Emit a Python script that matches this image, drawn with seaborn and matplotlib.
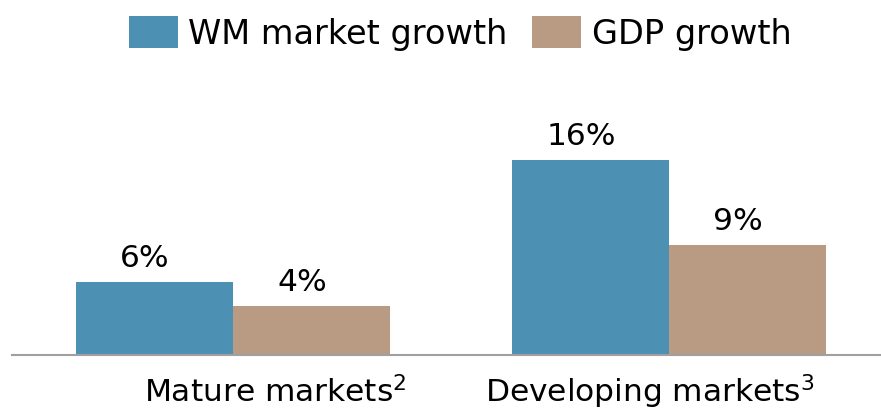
import pandas as pd
import numpy as np
import matplotlib
matplotlib.use('Agg')
import matplotlib.pyplot as plt
import seaborn as sns
from matplotlib.patches import Patch
from matplotlib.transforms import offset_copy

# data
categories = ['Mature markets$^2$', 'Developing markets$^3$']
series = ['WM market growth', 'GDP growth']
wm_growth = [6, 16]
gdp_growth = [4, 9]
colors = ['#4C91B4', '#B89B82']

df = pd.DataFrame({
    'market': categories * 2,
    'series': [series[0]] * 2 + [series[1]] * 2,
    'growth': wm_growth + gdp_growth,
})

sns.set_style('white')
plt.rcParams['font.family'] = ['DejaVu Sans']
plt.rcParams['mathtext.fontset'] = 'dejavusans'
plt.rcParams['mathtext.default'] = 'regular'
plt.rcParams['text.color'] = 'black'

fig = plt.figure(figsize=(8.81, 4.11), dpi=100)
W, H = 881, 411
ax = fig.add_axes([12 / W, 1 - 355 / H, (881 - 12) / W, 355 / H])

sns.barplot(data=df, x='market', y='growth', hue='series', palette=colors,
            width=0.72, gap=0, saturation=1, dodge=True, legend=False, ax=ax,
            linewidth=0)

ax.set_xlim(-0.507, 1.486)
ax.set_ylim(0, 29.1)

# value labels
for cont in ax.containers:
    for bar in cont:
        h = bar.get_height()
        tr = offset_copy(ax.transData, fig=fig, x=-7, y=11, units='points')
        ax.text(bar.get_x() + bar.get_width() / 2, h, f'{h:.0f}%', transform=tr,
                ha='center', va='baseline', fontsize=22.5, color='black')

# axes styling
for s in ['top', 'right', 'left']:
    ax.spines[s].set_visible(False)
ax.spines['bottom'].set_color('#A0A0A0')
ax.spines['bottom'].set_linewidth(1.5)
ax.set_yticks([])
ax.set_xticks([])
ax.set_xlabel('')
ax.set_ylabel('')

# category labels (slightly off-centre, as in the source)
label_shift = [0.096, -0.044]
for i, (cat, dx) in enumerate(zip(categories, label_shift)):
    ax.text(i + dx, -0.133, cat, transform=ax.get_xaxis_transform(),
            ha='center', va='baseline', fontsize=22.5, color='black')

# legend
handles = [Patch(facecolor=c, edgecolor='none') for c in colors]
fig.legend(handles, series, loc='upper left', bbox_to_anchor=(129 / W, 1 - 16 / H),
           ncol=2, frameon=False, fontsize=24.2, handlelength=1.46, handleheight=1.1,
           handletextpad=0.3, columnspacing=0.74, borderpad=0, borderaxespad=0)

fig.savefig('out.png', dpi=100)
